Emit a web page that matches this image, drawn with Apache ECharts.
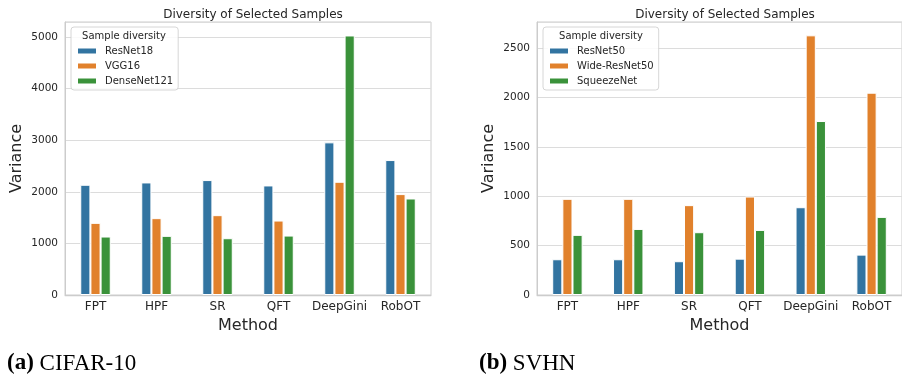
<!DOCTYPE html>
<html><head><meta charset="utf-8">
<script src="https://cdn.jsdelivr.net/npm/echarts@6/dist/echarts.min.js"></script>
<style>html,body{margin:0;padding:0;background:#fff}#c{width:902px;height:380px}</style>
</head><body><div id="c"></div>
<script>
const categories = ['FPT','HPF','SR','QFT','DeepGini','RobOT'];
const cifarNames = ['ResNet18','VGG16','DenseNet121'];
const cifarResNet18 = [2136, 2181, 2227, 2123, 2958, 2615];
const cifarVGG16 = [1398, 1489, 1547, 1443, 2194, 1955];
const cifarDenseNet121 = [1133, 1146, 1100, 1152, 5029, 1870];
const svhnNames = ['ResNet50','Wide-ResNet50','SqueezeNet'];
const svhnResNet50 = [362, 362, 342, 368, 889, 409];
const svhnWideResNet50 = [974, 974, 910, 997, 2630, 2049];
const svhnSqueezeNet = [609, 669, 636, 659, 1762, 791];
const titleText = 'Diversity of Selected Samples';
const legendTitle = 'Sample diversity';
const xName = 'Method';
const yName = 'Variance';
const captionA = ['(a)', 'CIFAR-10'];
const captionB = ['(b)', 'SVHN'];

const colors = ['#3274a1', '#e1812c', '#3a923a'];
const font = 'DejaVu Sans';
const ink = '#262626';

const chart = echarts.init(document.getElementById('c'), null, {renderer: 'canvas'});

function xAxis(gi) {
  return {
    type: 'category', gridIndex: gi, data: categories,
    name: xName, nameLocation: 'middle', nameGap: 22,
    nameTextStyle: {fontFamily: font, fontSize: 16, color: ink, verticalAlign: 'top'},
    axisLine: {show: true, lineStyle: {color: '#cccccc', width: 1.25}},
    axisTick: {show: false},
    axisLabel: {interval: 0, fontFamily: font, fontSize: 12, color: ink, margin: 6},
    splitLine: {show: false}
  };
}
function yAxis(gi, max, interval) {
  return {
    type: 'value', gridIndex: gi, min: 0, max: max, interval: interval,
    name: yName, nameLocation: 'middle', nameGap: 40, nameRotate: 90,
    nameTextStyle: {fontFamily: font, fontSize: 16, color: ink},
    axisLine: {show: true, lineStyle: {color: '#cccccc', width: 1}},
    axisTick: {show: false},
    axisLabel: {fontFamily: font, fontSize: 10.5, color: ink, margin: 7, showMaxLabel: false,
                formatter: function (v) { return String(v); }},
    splitLine: {show: true, lineStyle: {color: '#dcdcdc', width: 1}}
  };
}
function bars(name, data, gi, ci) {
  return {
    type: 'bar', name: name, data: data, xAxisIndex: gi, yAxisIndex: gi,
    barCategoryGap: '50%', barGap: '0%',
    itemStyle: {color: colors[ci], borderColor: '#ffffff', borderWidth: 1},
    emphasis: {disabled: true}, animation: false
  };
}
function legend(names, left) {
  return {
    data: names, orient: 'vertical', left: left, top: 27,
    icon: 'rect', itemWidth: 20, itemHeight: 7, itemGap: 3,
    padding: [18, 5, 3, 5],
    backgroundColor: 'rgba(255,255,255,0.85)',
    borderColor: '#cccccc', borderWidth: 0.8, borderRadius: 3,
    textStyle: {fontFamily: font, fontSize: 10, color: ink, lineHeight: 12, padding: [0, 0, 0, 3]}
  };
}
function caption(parts, x) {
  return {
    type: 'text', left: x, top: 352, z: 10,
    style: {
      text: '{b|' + parts[0] + '} ' + parts[1],
      font: '23px "Liberation Serif"', fill: '#000',
      rich: {b: {fontFamily: 'Liberation Serif', fontSize: 23, fontWeight: 'bold', fill: '#000'}}
    }
  };
}

chart.setOption({
  backgroundColor: '#ffffff',
  animation: false,
  title: [
    {text: titleText, left: 248, top: 4, textAlign: 'center',
     textStyle: {fontFamily: font, fontSize: 12, fontWeight: 'normal', color: ink}},
    {text: titleText, left: 720, top: 4, textAlign: 'center',
     textStyle: {fontFamily: font, fontSize: 12, fontWeight: 'normal', color: ink}}
  ],
  grid: [
    {left: 65, right: 471, top: 22, bottom: 85, show: true, borderColor: '#cccccc', borderWidth: 1, containLabel: false},
    {left: 537, right: -2, top: 22, bottom: 85, show: true, borderColor: '#cccccc', borderWidth: 1, containLabel: false}
  ],
  legend: [legend(cifarNames, 71), legend(svhnNames, 543)],
  xAxis: [xAxis(0), xAxis(1)],
  yAxis: [yAxis(0, 5290, 1000), yAxis(1, 2765, 500)],
  series: [
    bars(cifarNames[0], cifarResNet18, 0, 0),
    bars(cifarNames[1], cifarVGG16, 0, 1),
    bars(cifarNames[2], cifarDenseNet121, 0, 2),
    bars(svhnNames[0], svhnResNet50, 1, 0),
    bars(svhnNames[1], svhnWideResNet50, 1, 1),
    bars(svhnNames[2], svhnSqueezeNet, 1, 2)
  ],
  graphic: [
    {type: 'text', x: 124, y: 36, z: 100,
     style: {text: legendTitle, font: '10px "DejaVu Sans"', fill: ink, textAlign: 'center', textVerticalAlign: 'middle'}},
    {type: 'text', x: 601, y: 36, z: 100,
     style: {text: legendTitle, font: '10px "DejaVu Sans"', fill: ink, textAlign: 'center', textVerticalAlign: 'middle'}},
    caption(captionA, 7),
    caption(captionB, 479)
  ]
});
</script>
</body></html>
